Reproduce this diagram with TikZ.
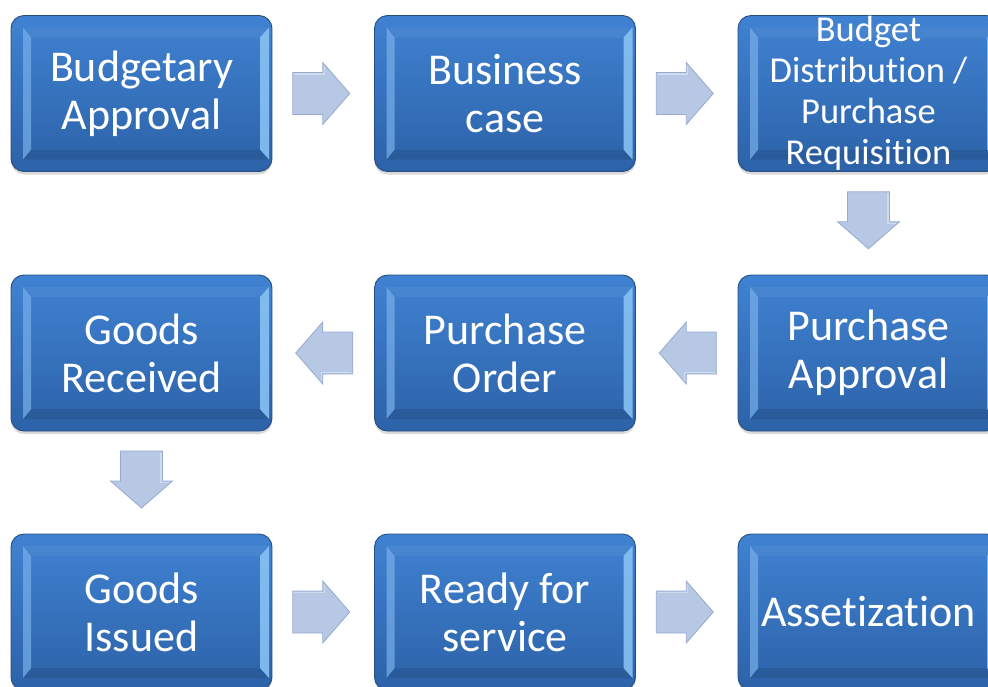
\documentclass[tikz,border=0pt]{standalone}
\usepackage{fontspec}
\setmainfont{Carlito}[Ligatures=NoCommon]
\usetikzlibrary{shadows,calc}
\definecolor{boxtop}{RGB}{64,130,210}
\definecolor{boxbot}{RGB}{44,98,168}
\definecolor{boxline}{RGB}{38,78,128}
\definecolor{bevL}{RGB}{120,176,234}
\definecolor{bevR}{RGB}{140,198,246}
\definecolor{arrfill}{RGB}{183,200,228}
\definecolor{arrline}{RGB}{150,170,206}
\tikzset{
  box/.style={rounded corners=13pt, minimum width=261pt, minimum height=156pt,
    inner sep=0pt, top color=boxtop, bottom color=boxbot, draw=boxline, line width=0.9pt,
    drop shadow={opacity=0.3, shadow xshift=0pt, shadow yshift=-3pt},
    path picture={
      \fill[sharp corners,white,opacity=0.05] ($(path picture bounding box.north west)+(12pt,-12pt)$) -- ($(path picture bounding box.north east)+(-3pt,-12pt)$) -- ++(-9pt,-10pt) -- ($(path picture bounding box.north west)+(21pt,-22pt)$) -- cycle;
      \fill[sharp corners,black,opacity=0.10] ($(path picture bounding box.south west)+(12pt,12pt)$) -- ($(path picture bounding box.south east)+(-3pt,12pt)$) -- ++(-9pt,10pt) -- ($(path picture bounding box.south west)+(21pt,22pt)$) -- cycle;
      \fill[sharp corners,bevL,opacity=0.7] ($(path picture bounding box.north west)+(12pt,-12pt)$) -- ++(8pt,-10pt) -- ($(path picture bounding box.south west)+(20pt,22pt)$) -- ++(-8pt,-10pt) -- cycle;
      \fill[sharp corners,bevR,opacity=0.85] ($(path picture bounding box.north east)+(-3pt,-12pt)$) -- ++(-9pt,-10pt) -- ($(path picture bounding box.south east)+(-12pt,22pt)$) -- ++(9pt,-10pt) -- cycle;
    }},
  txt/.style={text=white, align=center, inner sep=0pt, font=\fontsize{44pt}{48pt}\selectfont},
  smalltxt/.style={txt, font=\fontsize{36.5pt}{41pt}\selectfont},
  arrstyle/.style={fill=arrfill, draw=arrline, line width=0.8pt, line join=miter},
  barrow/.pic={
    \filldraw[arrstyle] (-28.5,-21) -- (1.5,-21) -- (1.5,-31) -- (28.5,0) -- (1.5,31) -- (1.5,21) -- (-28.5,21) -- cycle;
    \draw[white,opacity=0.35,line width=1.2pt] (-27,-19.5) -- (3,-19.5) -- (3,-27.5);
  },
}
\begin{document}
\begin{tikzpicture}[x=1pt,y=-1pt]
\useasboundingbox (0,0) rectangle (988,686);
\node[box, label={[txt]center:Budgetary\\Approval}] (b1) at (141.5,93.5) {};
\node[box, label={[txt]center:Business\\case}] (b2) at (505,93.5) {};
\node[box, label={[smalltxt]center:Budget\\Distribution /\\Purchase\\Requisition}] (b3) at (868.5,93.5) {};
\node[box, label={[txt]center:Goods\\Received}] (b4) at (141.5,353) {};
\node[box, label={[txt]center:Purchase\\Order}] (b5) at (505,353) {};
\node[box, label={[txt]center:Purchase\\Approval}] (b6) at (868.5,353) {};
\node[box, label={[txt]center:Goods\\Issued}] (b7) at (141.5,612) {};
\node[box, label={[txt]center:Ready for\\service}] (b8) at (505,612) {};
\node[box, label={[txt]center:Assetization}] (b9) at (868.5,612) {};
\pic (a12) at ($(b1)!0.5!(b2)+(-2,0)$) {barrow};
\pic (a23) at ($(b2)!0.5!(b3)+(-2,0)$) {barrow};
\pic[rotate=-90] (a36) at ($(b3)!0.5!(b6)+(0,-3)$) {barrow};
\pic[rotate=180] (a65) at ($(b6)!0.5!(b5)+(1,0)$) {barrow};
\pic[rotate=180] (a54) at ($(b5)!0.5!(b4)+(1,0)$) {barrow};
\pic[rotate=-90] (a47) at ($(b4)!0.5!(b7)+(0,-3)$) {barrow};
\pic (a78) at ($(b7)!0.5!(b8)+(-2,0)$) {barrow};
\pic (a89) at ($(b8)!0.5!(b9)+(-2,0)$) {barrow};
\end{tikzpicture}
\end{document}
